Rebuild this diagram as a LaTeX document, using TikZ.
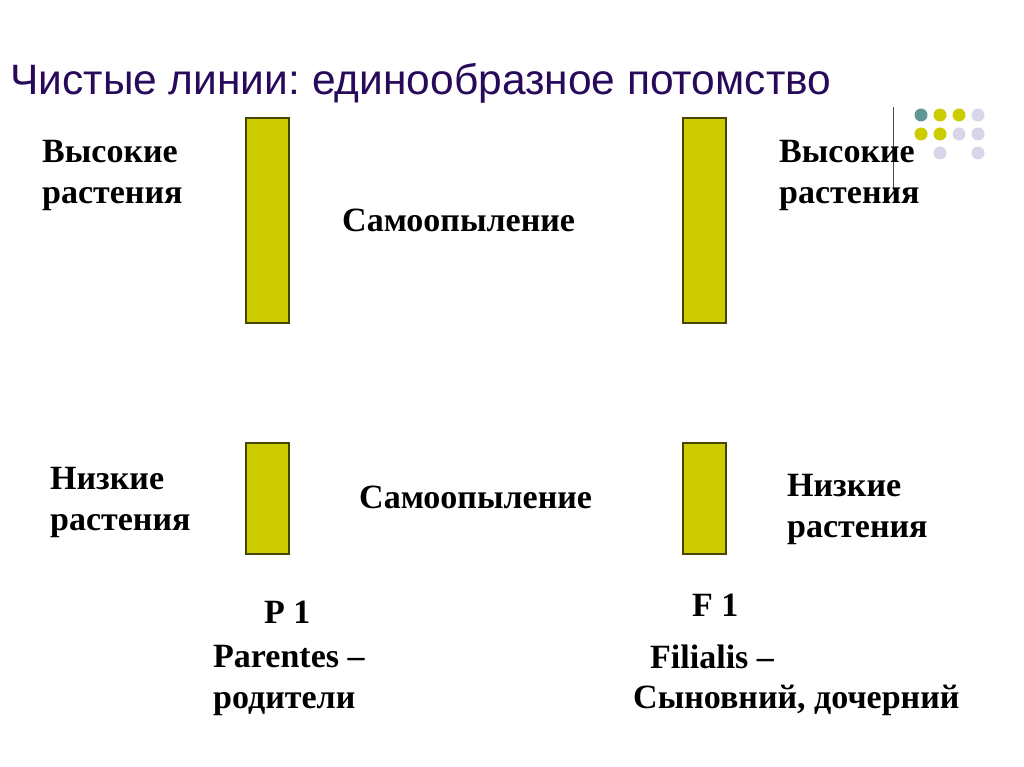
\documentclass[tikz,border=0pt]{standalone}
\usepackage{fontspec}
\setmainfont{Liberation Serif}
\newfontfamily\titlefont{Liberation Sans}
\frenchspacing
\begin{document}
\begin{tikzpicture}[x=1pt,y=-1pt,
  bar/.style={draw={rgb,255:red,70;green,70;blue,0},line width=1.2pt,fill={rgb,255:red,204;green,204;blue,0}},
  lbl/.style={anchor=base west,inner sep=0pt,font=\fontsize{34}{41}\selectfont\bfseries,align=left},
  dot/.style={circle,inner sep=0pt,minimum size=13pt}]
\useasboundingbox (0,0) rectangle (1024,767);
\fill[white] (0,0) rectangle (1024,767);
\definecolor{titlecol}{RGB}{40,10,90}
\definecolor{teal}{RGB}{96,150,150}
\definecolor{ylw}{RGB}{204,204,0}
\definecolor{lav}{RGB}{214,214,232}
\node[anchor=base west,inner sep=0pt,text=titlecol,font=\titlefont\fontsize{42.5}{48}\selectfont] (title) at (10,95) {Чистые линии: единообразное потомство};
% decoration
\draw[line width=1pt,black!70] (893,107) -- (893,190);
\node[dot,fill=teal] (d1) at (921,115) {};
\node[dot,fill=ylw] (d2) at (940,115) {};
\node[dot,fill=ylw] (d3) at (959,115) {};
\node[dot,fill=lav] (d4) at (978,115) {};
\node[dot,fill=ylw] (d5) at (921,134) {};
\node[dot,fill=ylw] (d6) at (940,134) {};
\node[dot,fill=lav] (d7) at (959,134) {};
\node[dot,fill=lav] (d8) at (978,134) {};
\node[dot,fill=lav] (d9) at (940,153) {};
\node[dot,fill=lav] (d10) at (978,153) {};
% bars
\draw[bar] (246,118) rectangle (289,323);
\draw[bar] (683,118) rectangle (726,323);
\draw[bar] (246,443) rectangle (289,554);
\draw[bar] (683,443) rectangle (726,554);
% labels (anchor = baseline of last line)
\node[lbl] (hl) at (42,204) {Высокие\\растения};
\node[lbl] (hr) at (779,204) {Высокие\\растения};
\node[lbl] (s1) at (342,232) {Самоопыление};
\node[lbl] (ll) at (50,530) {Низкие\\растения};
\node[lbl] (lr) at (787,537) {Низкие\\растения};
\node[lbl] (s2) at (359,508) {Самоопыление};
\node[lbl] (p1) at (264,623) {P 1};
\node[lbl] (par) at (213,708) {Parentes –\\родители};
\node[lbl] (f1) at (692,616) {F 1};
\node[lbl] (fil) at (650,668) {Filialis –};
\node[lbl] (son) at (633,708) {Сыновний, дочерний};
\end{tikzpicture}
\end{document}
